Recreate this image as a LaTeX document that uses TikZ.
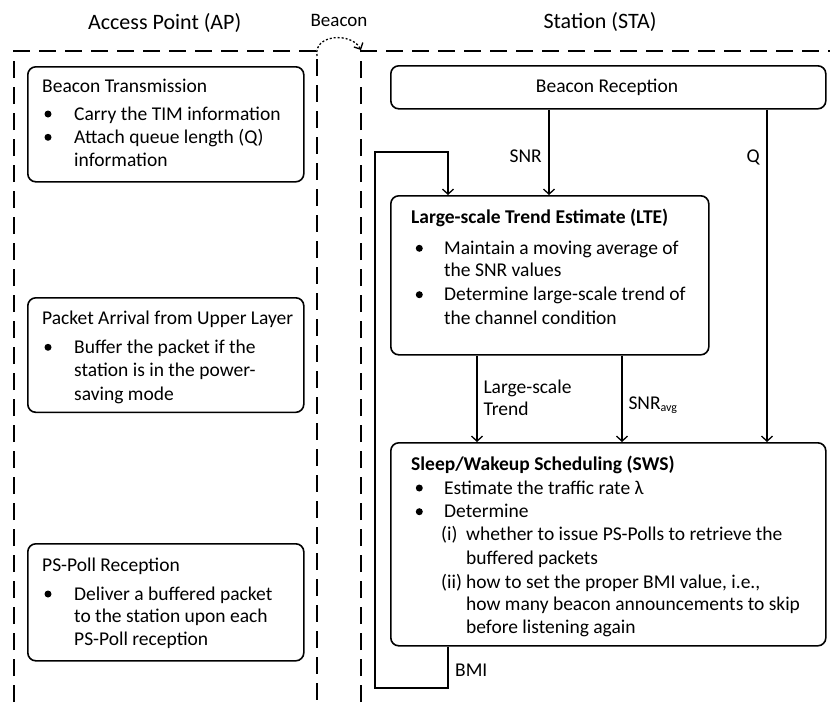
\documentclass[tikz,border=0pt]{standalone}
\usepackage{fontspec}
\setmainfont{Carlito}
\usetikzlibrary{arrows.meta}
\begin{document}
\begin{tikzpicture}[x=1pt,y=-1pt,
  box/.style={draw,line width=1.6pt,rounded corners=8pt,inner sep=0pt,anchor=north west},
  lane/.style={line width=1.6pt,dash pattern=on 17pt off 9pt},
  txt/.style={anchor=base west,inner sep=0pt,font=\fontsize{19.5}{23}\selectfont},
  ctxt/.style={anchor=base,inner sep=0pt,font=\fontsize{19.5}{23}\selectfont},
  rtxt/.style={anchor=base east,inner sep=0pt,font=\fontsize{19.5}{23}\selectfont},
  hd/.style={anchor=base,inner sep=0pt,font=\fontsize{22}{26}\selectfont},
  arr/.style={line width=1.3pt,-{Straight Barb[length=5pt,width=11pt,line width=1.3pt]}},
  bul/.style={circle,fill,inner sep=0pt,minimum size=7pt}
]
\useasboundingbox (0,0) rectangle (830,702);

% headers
\node[hd] (hap) at (164.7,29.3) {Access Point (AP)};
\node[hd] (hsta) at (600,28.3) {Station (STA)};
\node[anchor=base,inner sep=0pt,font=\fontsize{19}{22}\selectfont] (hbeacon) at (339,26.7) {Beacon};

% lanes
\draw[lane] (14,702) -- (14,51) -- (317,51) -- (317,702);
\draw[lane] (361,702) -- (361,51) -- (830,51);
\coordinate (bs) at (317,56);
\coordinate (be) at (361,50);
\draw[line width=1.3pt,dash pattern=on 2pt off 2pt,-{Straight Barb[length=5pt,width=10pt,line width=1.3pt]}]
  (bs) .. controls (313,34) and (352,32) .. (be);

% AP boxes
\node[box,minimum width=276pt,minimum height=115pt] (bt) at (27,66) {};
\node[txt] (bt0) at (42,92.7) {Beacon Transmission};
\node[bul] (btb1) at (48,114) {};
\node[txt] (bt1) at (74,120) {Carry the TIM information};
\node[bul] (btb2) at (48,137.3) {};
\node[txt] (bt2) at (74,143.3) {Attach queue length (Q)};
\node[txt] (bt3) at (74,166) {information};

\node[box,minimum width=276pt,minimum height=114.5pt] (pa) at (27,297) {};
\node[txt] (pa0) at (42,324.3) {Packet Arrival from Upper Layer};
\node[bul] (pab1) at (48,347.3) {};
\node[txt] (pa1) at (74,353.3) {Buffer the packet if the};
\node[txt] (pa2) at (74,376.8) {station is in the power-};
\node[txt] (pa3) at (74,400) {saving mode};

\node[box,minimum width=276pt,minimum height=117pt] (pp) at (27,543) {};
\node[txt] (pp0) at (42,571) {PS-Poll Reception};
\node[bul] (ppb1) at (48,594) {};
\node[txt] (pp1) at (74,600) {Deliver a buffered packet};
\node[txt] (pp2) at (74,622.7) {to the station upon each};
\node[txt] (pp3) at (74,645) {PS-Poll reception};

% STA boxes
\node[box,minimum width=435pt,minimum height=43pt] (br) at (390,65) {};
\node[ctxt] (br0) at (607,92.7) {Beacon Reception};

\node[box,minimum width=318pt,minimum height=159pt] (lte) at (390,195) {};
\node[txt,font=\fontsize{19.5}{23}\selectfont\bfseries] (lte0) at (411,223) {Large-scale Trend Estimate (LTE)};
\node[bul] (lteb1) at (419.3,248.3) {};
\node[txt] (lte1) at (444,254.3) {Maintain a moving average of};
\node[txt] (lte2) at (444,276.7) {the SNR values};
\node[bul] (lteb2) at (419.3,294.7) {};
\node[txt] (lte3) at (444,300.7) {Determine large-scale trend of};
\node[txt] (lte4) at (444,324) {the channel condition};

\node[box,minimum width=435pt,minimum height=203pt] (sws) at (390,442) {};
\node[txt,font=\fontsize{19.5}{23}\selectfont\bfseries] (sws0) at (411,470) {Sleep/Wakeup Scheduling (SWS)};
\node[bul] (swsb1) at (419.3,488) {};
\node[txt] (sws1) at (444,494) {Estimate the traffic rate λ};
\node[bul] (swsb2) at (419.3,511.7) {};
\node[txt] (sws2) at (444,517.7) {Determine};
\node[txt] (swsi) at (441,540.7) {(i)};
\node[txt] (sws3) at (466,540.7) {whether to issue PS-Polls to retrieve the};
\node[txt] (sws4) at (466,564) {buffered packets};
\node[txt] (swsii) at (441,588) {(ii)};
\node[txt] (sws5) at (466,588) {how to set the proper BMI value, i.e.,};
\node[txt] (sws6) at (466,610.7) {how many beacon announcements to skip};
\node[txt] (sws7) at (466,633.3) {before listening again};

% connectors
\coordinate (xsnr) at (549,0);
\coordinate (xq) at (767,0);
\coordinate (xtr) at (477,0);
\coordinate (xavg) at (622,0);
\coordinate (xf) at (448,0);
\draw[arr] (br.south -| xsnr) -- (lte.north -| xsnr);
\draw[arr] (br.south -| xq) -- (sws.north -| xq);
\draw[arr] (lte.south -| xtr) -- (sws.north -| xtr);
\draw[arr] (lte.south -| xavg) -- (sws.north -| xavg);
\coordinate (fb1) at (448,688);
\coordinate (fb2) at (375,688);
\coordinate (fb3) at (375,152);
\coordinate (fb4) at (448,152);
\draw[arr] (sws.south -| xf) -- (fb1) -- (fb2) -- (fb3) -- (fb4) -- (lte.north -| xf);

% connector labels
\node[rtxt] (lsnr) at (542,162.7) {SNR};
\node[rtxt] (lq) at (760,162.7) {Q};
\node[txt] (ltr1) at (483.3,393.3) {Large-scale};
\node[txt] (ltr2) at (483.3,415.7) {Trend};
\node[txt] (lavg) at (628.3,409.3) {SNR\raisebox{-2.5pt}{\fontsize{12}{12}\selectfont avg}};
\node[txt] (lbmi) at (455,676) {BMI};
\end{tikzpicture}
\end{document}
